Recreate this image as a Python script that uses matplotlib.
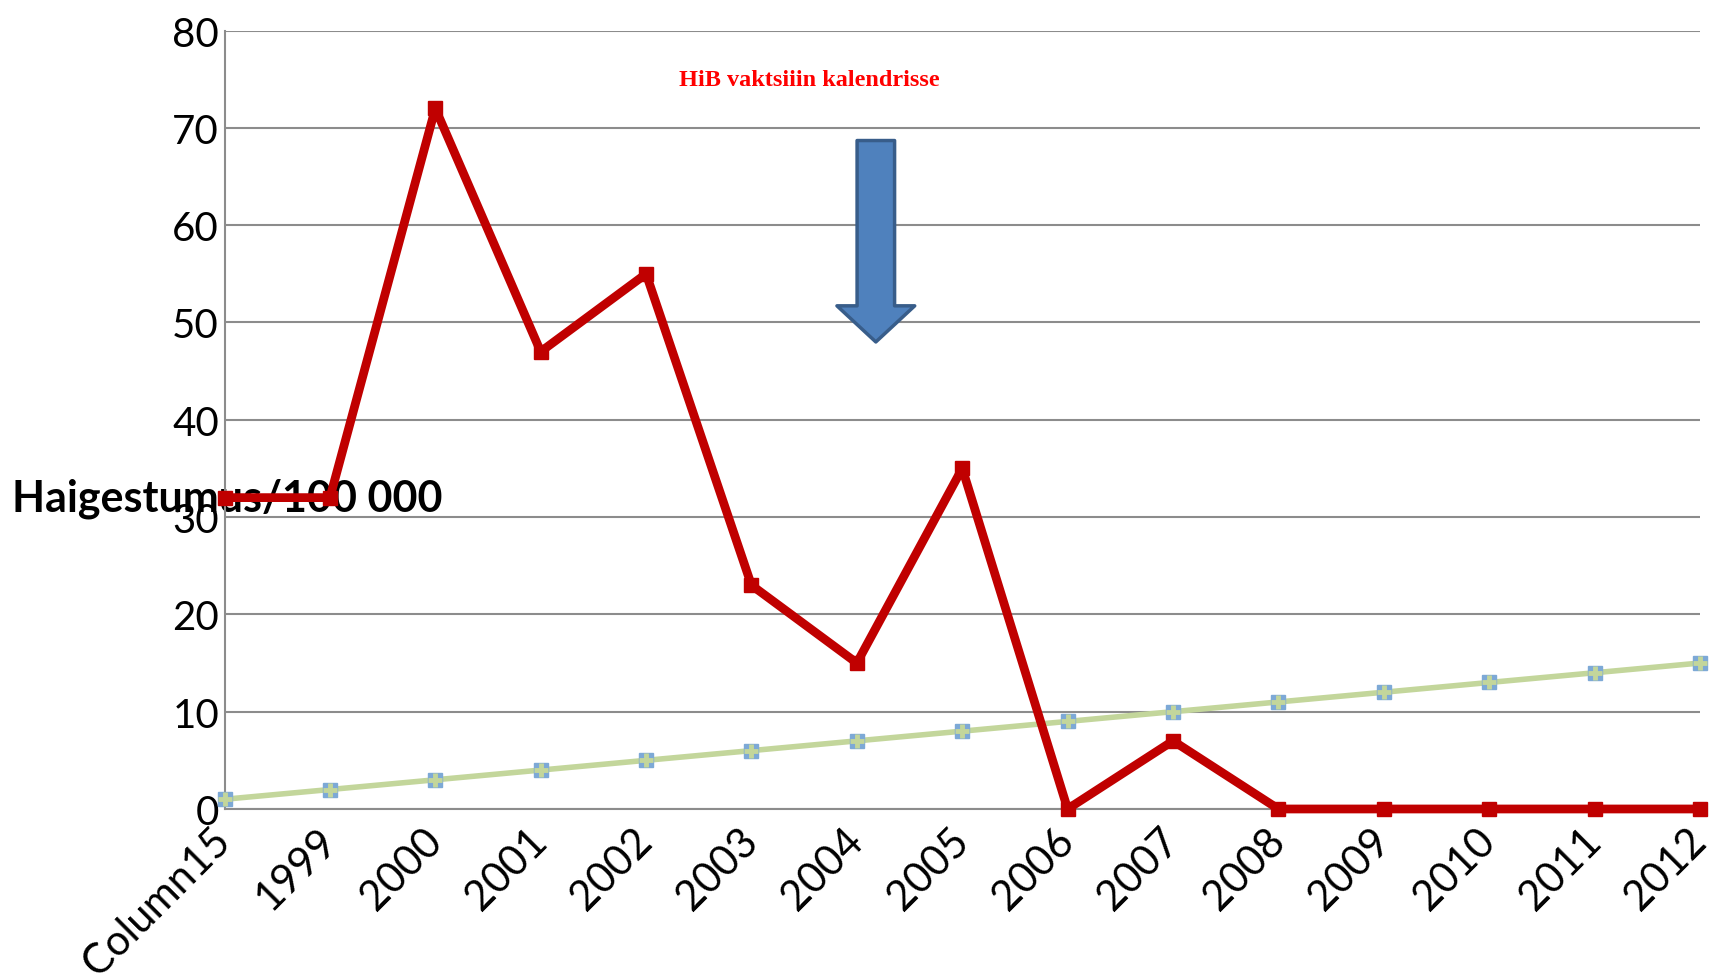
import matplotlib.pyplot as plt

categories = ["Column15", "1999", "2000", "2001", "2002", "2003", "2004",
              "2005", "2006", "2007", "2008", "2009", "2010", "2011", "2012"]
incidence = [32, 32, 72, 47, 55, 23, 15, 35, 0, 7, 0, 0, 0, 0, 0]
column15 = [1, 2, 3, 4, 5, 6, 7, 8, 9, 10, 11, 12, 13, 14, 15]
y_ticks = [0, 10, 20, 30, 40, 50, 60, 70, 80]

RED = "#C00000"
GREEN = "#C3D69B"
GRID = "#8C8C8C"


def plot_incidence():
    fig = plt.figure(figsize=(17.09, 9.78), dpi=100)
    ax = fig.add_axes([0.1314, 0.1718, 0.8633, 0.7959])
    x = list(range(len(categories)))

    # trend series with small square markers
    ax.plot(x, column15, color=GREEN, lw=4, zorder=3, clip_on=False)
    ax.plot(x, column15, ls="none", marker="s", ms=10, mfc="#7DA9D6",
            mec="#7DA9D6", zorder=3.1, clip_on=False)
    ax.plot(x, column15, ls="none", marker="+", ms=10, mew=3.5, mec=GREEN,
            zorder=3.2, clip_on=False)

    ax.plot(x, incidence, color=RED, lw=6.3, marker="s", ms=9.5,
            mfc=RED, mec=RED, zorder=4, clip_on=False,
            solid_joinstyle="bevel")

    ax.set_xlim(0, len(categories) - 1)
    ax.set_ylim(0, 80)
    ax.set_yticks(y_ticks)
    ax.set_xticks(x)
    ax.set_xticklabels(categories, rotation=45, ha="right", va="center",
                       rotation_mode="anchor", fontsize=30, family="Lato")
    for lab in ax.get_yticklabels():
        lab.set_fontsize(29)
        lab.set_family("Lato")
    ax.tick_params(length=0, pad=4)
    ax.tick_params(axis="x", pad=18)

    ax.grid(axis="y", color=GRID, lw=1.5)
    ax.set_axisbelow(True)
    for side in ["top", "right"]:
        ax.spines[side].set_visible(False)
    for side in ["left", "bottom"]:
        ax.spines[side].set_color(GRID)
        ax.spines[side].set_linewidth(1.5)

    ax.set_ylabel("Haigestumus/100 000", rotation=0, fontsize=31,
                  fontweight="bold", family="Lato", ha="center", va="center")
    ax.yaxis.set_label_coords(0.002, 0.40)

    ax.text(0.396, 0.937, "HiB vaktsiiin kalendrisse", transform=ax.transAxes,
            color="#FF0000", fontsize=17.5, fontweight="bold",
            family="Liberation Serif", ha="center", va="center")

    # block arrow pointing at the vaccine introduction
    ax.annotate("", xy=(6.18, 48.0), xytext=(6.18, 68.7),
                arrowprops=dict(arrowstyle="simple,head_length=26,head_width=56,tail_width=27",
                                mutation_scale=1, shrinkA=0, shrinkB=0,
                                fc="#4F81BD", ec="#385D8A", lw=2.5))

    fig.savefig("out.png", dpi=100)


if __name__ == "__main__":
    plot_incidence()
